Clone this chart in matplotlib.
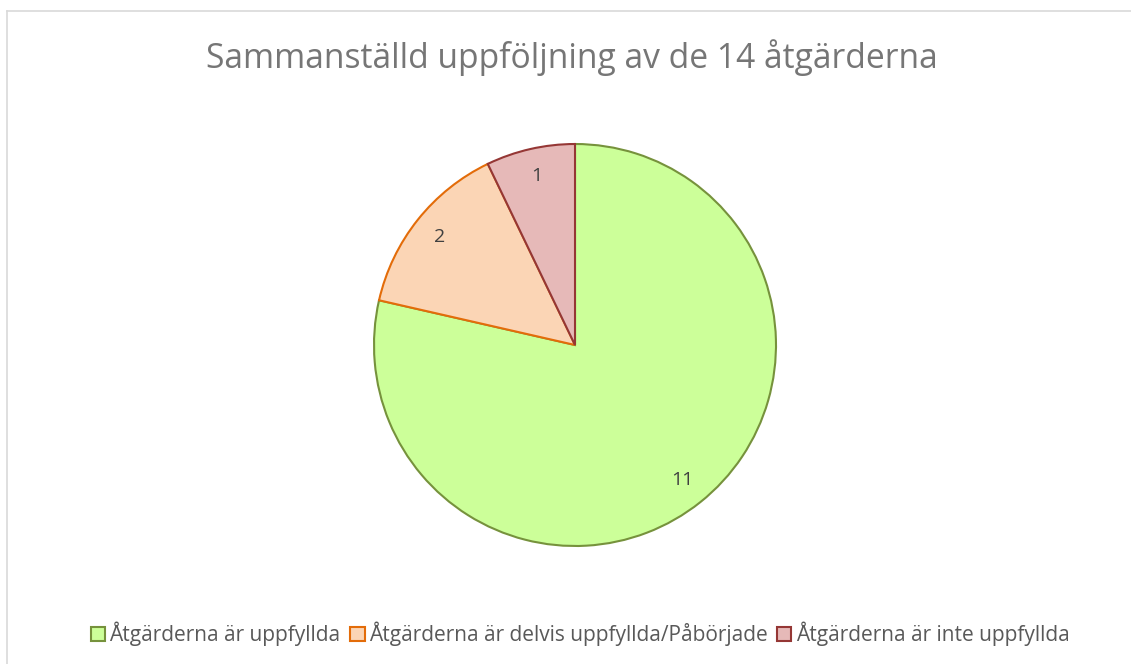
import matplotlib.pyplot as plt
from matplotlib.lines import Line2D
from matplotlib.patches import Patch

labels = ["Åtgärderna är uppfyllda", "Åtgärderna är delvis uppfyllda/Påbörjade",
          "Åtgärderna är inte uppfyllda"]
values = [11, 2, 1]
fills = ["#ccff99", "#fbd5b5", "#e6b9b8"]
edges = ["#76923c", "#e36c09", "#953735"]
title = "Sammanställd uppföljning av de 14 åtgärderna"

plt.rcParams["font.family"] = ["Open Sans", "DejaVu Sans"]

W, H = 1131, 664
fig = plt.figure(figsize=(W / 100, H / 100), dpi=100)

# chart frame (top and left edges only)
fig.add_artist(Line2D([7 / W, 7 / W], [0, 1 - 11 / H], transform=fig.transFigure,
                      color="#d9d9d9", lw=1.2))
fig.add_artist(Line2D([7 / W, 1], [1 - 11 / H, 1 - 11 / H], transform=fig.transFigure,
                      color="#d9d9d9", lw=1.2))

cx, cy, r = 575, 345, 203
ax = fig.add_axes([(cx - r) / W, (H - cy - r) / H, 2 * r / W, 2 * r / H])
wedges, texts, autotexts = ax.pie(values, colors=fills, startangle=90, counterclock=False,
                                  radius=1, autopct=lambda p: f"{round(p * sum(values) / 100)}",
                                  pctdistance=0.86,
                                  textprops=dict(color="#404040", fontsize=14))
for w, ec in zip(wedges, edges):
    w.set_edgecolor(ec)
    w.set_linewidth(1.5)
ax.set_xlim(-1.01, 1.01)
ax.set_ylim(-1.01, 1.01)
ax.set_aspect("equal")

fig.text(572 / W, 1 - 58 / H, title, ha="center", va="center", fontsize=24.2, color="#767676")

handles = [Patch(facecolor=f, edgecolor=e, linewidth=1.5) for f, e in zip(fills, edges)]
fig.legend(handles, labels, loc="center", bbox_to_anchor=(580 / W, 1 - 634 / H), ncol=3,
           frameon=False, fontsize=15, handlelength=0.7, handleheight=0.7,
           handletextpad=0.2, columnspacing=0.45, labelcolor="#595959")

fig.savefig("out.png", dpi=100)
